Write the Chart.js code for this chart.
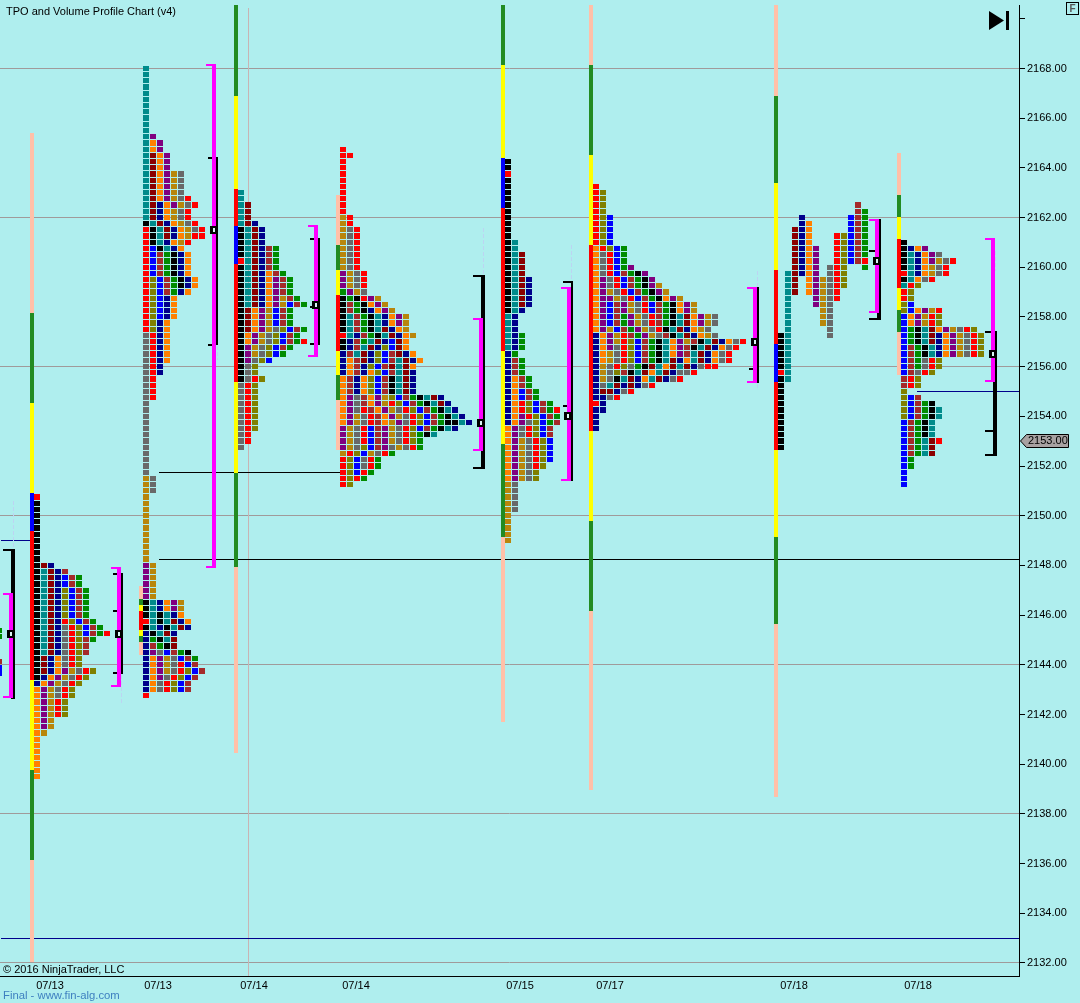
<!DOCTYPE html>
<html><head><meta charset="utf-8">
<style>html,body{margin:0;padding:0;background:#afeeee}canvas{display:block}</style>
<script src="https://cdn.jsdelivr.net/npm/chart.js@4"></script>
</head><body><canvas id="c" width="1080" height="1003"></canvas>
<script>
// ---------- DATA ----------
const priceTicks = [2132,2134,2136,2138,2140,2142,2144,2146,2148,2150,2152,2154,2156,2158,2160,2162,2164,2166,2168,2170];
const gridPrices = [2132,2138,2144,2150,2156,2162,2168];
const dateLabels = ["07/13","07/13","07/14","07/14","07/15","07/17","07/18","07/18"];
const datePositions = [50,158,254,356,520,610,794,918];
const lastPrice = 2153;

// TPO letters per price row (top row first, 0.25 point apart); '.' = empty cell
const p1Rows = "R K K K K K K K K K K KDN KTDNW KTDNBWG KTDNBWG KTDNLBWG KTDNLBWG KTDNLBWG KTDNLBWG KTDNLBWG KTDNRLBWG KTDNSRLBWG KTDNSRLBWGR KTDNSRLWG KTDNSRLW KTDNSRLW KDNOSRL KDNOSRL KDNOPYSRL KNOPYSRL NOPYSRL OPYSRL OPYSRL OPYRL OPYRL OPYRL OPY OPY OY O O O O O O O".split(" ");
const p2Rows = "T T T T T T T T T T T TP TOP TOP TDOP TDOP TDOP TDOPYS TDOPYS TDOPYS TDOPYS TDOPYSR TDNOPYSR TDNOYSR TDNOYSR KTDNOYSR RKTDNOYSR RKTDNOYRR RKTNOYR RBKTNO RBWGKNO RBWGKNO RBWGKNO RBWGKNO RLBWGKNO RLBWGKNO RLBWGNO RLBNO RLBNO RLBNO RLBNO RLNO RLNO SRNO SRNO SRNO SRNO SRNO SRN SRN SR SR SR SR S S S S S S S S S S S S YS YS YS Y Y Y Y Y Y Y Y Y Y Y PY PY PY PY PY PY KTNOPY KTNOPY KTKTNO RTKTDNO KTNKTDN NKTDN NGKTD NWGKD NPSBWGK NOPYSBWG NOPYSRBW NOPYSRLBW NOPSRLBW NOSRLBW NOSRLBW R".split(" ");
const p3Rows = "T T TD TD TD TDN KTDN KTDN KTDN KTDNWG KTDNWG RTDNWG KTDNWG KTDNOWG KTDNOPWG KTDNOPWG KTDNOPWG KTDNOPYWG KTDNOPYBWG KDOPYBWG KDOPYBWG KDOPYBWG KDOPYSLBWG KOPYSLBWG KOPYSLBWGR KPYSLBWG KPYSLBG KPSLB KSL KSL KSRL SRL SRL SRL SRL SRL SRL SRL SRL SR SR S".split(" ");
const p4Rows = "R RR R R R R R R R R R YR YR YSR YSR YSR YSR YSR YSR YSR PYSR PYSR PYSR GPYS KGKRPY KWGKOPY KWGKNOPY KTWGKTNOPY KTWGKTNOPY KTWGKTDNOY RTNWGKTDNOY KNWGTDNBDO KNWTDNLBDO NWTDNLBWDNO NOWDNLBWTDNO NOWNLBWDTDO NOWNOLBWTDN OWNOLBWKTDN OWNOLBWKTDN OWNOLBWKTDN OPSWOPYLBWGKTDN OPSWOPYRLBWGKTDN OPSRWOPYSRLBWGKTN OPYSRWOPYSRLBWGKTN OPYSRWOYPSRLBWGKKTN PYSRBWPYSRLBWGKTN PYSRBWPYSRLGKT PYSRBWPYSRLG PYSLBWPSYSRG YRLBYSRG RLBSRG RLBSRG RLBRG RLRG RL".split(" ");
const p5Rows = "K K R K K K K K K K K K K KT KT KTD KTD KTD KTD KTDN KTDN KTDN KTDN KTDN KTN TN TN TN TNG TNG TNG NG NWG NWG NWG NOWG NOWG NOBWG NOBWG NORLBWG NORLBWGR NOPRLBWG NOPSLBGW OPSRLBW OPSRLBW OPYSRLB OPYSRLB OPYSRLB OPYSRLB OPYSRL OPYSL OPYSL YS YS YS YS YS Y Y Y Y Y".split(" ");
const p6Rows = "R RL RL RL RL RLB RLB RLB RLB RLB ORLBG OSRBG OSRBG OSRBGP OSRBWGKP OPSRBWGKP OPSRBWGKPY OPYSRBWGKPY OPPYSRBWGKOPY OPBWPYSRBWGKOPY OPBWPYSRBWGKOPY OPBWGPYSRWGKTDOPYS OPBWGPYSRWGKTDOPYS OPYBWGPYSRKTDNOYS NOPYRWGPYSWKTDNOYS NOPYRLBWGKTOPYWKTDNOSR NOPSRLBWGKTOPWKTDNOSR NOYSRLBWGKTOPWTDNOSR NOYSRLBWGKTDNOTDNOSR NYSRLSGKDTODTDNSRR NYSLWKTDOTDNSSR NYSKTDNOTDNSR NSTDNDNSR NDDNSR NNSR RN NN N N N".split(" ");
const p7Rows = "...........W ...........WG ...N......BWG ...NO.....BWG ..DNO.....BWG ..DNO...RLBWG ..DNO...RLBWG ..DNOP..RLBWG ..DNOP..RLBWG ..DNOP..RLBWR ..DNOP.SRL..G .TDNOP.SRL .TD.OPYSRL .TD.OPYSRL .TD.OPYSR .T...PYSR .T...PYS .T....YS .T....YS .T....YS .T.....S KT.....S KT KT KT KT KT RT KT K K K K K K K K K K K".split(" ");
const p8Rows = "K KNOP KTNOPS KTNOPYSR KTNOYSR RTNOYSR KTOSR TRL RL RL LB LBOPYR BOPYRL BOPYRL BGKTDOPYSRL BGKTDNOPYSRL BGKTDNOPYSRL BWGKTNOPYSRL BWGKTNOPYSRL BWGSRL BWGSRL BWSRL WRL WRL L LBW LBWGK LBWGKT LBWGKT BWGKT BWGKT BWGKT BWGTDR BWGTD BWGTD BG BG B B B".split(" ");
const profileRows = [p1Rows,p2Rows,p3Rows,p4Rows,p5Rows,p6Rows,p7Rows,p8Rows];
const profileTopPrice = [2150.75,2168,2163,2164.75,2164.25,2163.25,2162.5,2161];
const profileColumn = [37,146,241,343,508,596,781,904];

// session range bars: segment codes and price edges
const sessionColumn = [32,141,236,338,503,591,776,899];
const sessionCodes = ["afybrmfa","afyrmfa","fyrbrmfa","afyrmfa","fybrmfa","afyrmfa","afyrbrmfa","afyrmfa"];
const sessionEdges = [
 [2165.40,2158.16,2154.54,2150.92,2149.39,2143.39,2139.77,2136.15,2132.05],
 [2147.17,2146.65,2146.41,2146.17,2145.40,2145.16,2144.92,2144.40],
 [2170.56,2166.89,2163.15,2161.66,2160.13,2155.38,2151.72,2147.94,2140.45],
 [2162.91,2160.90,2159.89,2158.88,2156.63,2155.66,2154.66,2152.65],
 [2170.56,2168.14,2164.40,2162.39,2156.63,2152.89,2149.15,2141.70],
 [2170.56,2168.14,2164.52,2160.90,2153.41,2149.79,2146.17,2138.96],
 [2170.56,2166.89,2163.39,2159.89,2156.91,2155.38,2152.65,2149.15,2145.64,2138.68],
 [2164.60,2162.91,2162.02,2161.14,2159.17,2158.28,2157.39,2155.66]
];

// value-area brackets: column, top, bottom
const magentaColumn = [11,119,214,316,481,569,755,877,993];
const magentaTop = [2146.89,2147.93,2168.18,2161.70,2157.96,2159.21,2159.21,2161.94,2161.18];
const magentaBottom = [2142.67,2143.12,2147.88,2156.37,2152.61,2151.40,2155.34,2158.16,2155.38];
// session-range brackets: column, line width, top, bottom, cap prices
const blackColumn = [13,122,217,319,483,572,758,879,995];
const blackWidth = [4,2,2,2,4,2,2,4,4];
const blackTop = [2148.67,2147.70,2164.44,2161.18,2159.69,2159.45,2159.21,2161.94,2157.44];
const blackBottom = [2142.64,2143.63,2156.87,2156.87,2151.88,2151.40,2155.34,2157.88,2152.40];
const blackCaps = [[2148.62],[2147.66,2146.17,2143.67],[2164.40,2156.87],[2161.14,2158.40,2156.91],[2159.65,2151.92],[2159.41,2154.42],[2155.91],[2160.65,2157.92],[2157.40,2153.41,2152.44]];
// point of control markers
const pocColumn = [11,119,214,316,481,568,755,877,993];
const pocPrice = [2145.25,2145.25,2161.5,2158.5,2153.75,2154,2157,2160.25,2156.5];

// horizontal level lines: price, from, to, colour code
const levelPrice = [2133,2151.75,2148.25,2149,2155];
const levelFrom = [1,159,159,1,917];
const levelTo = [1019,340,1019,30,1019];
const levelColor = ["#00008b","#000000","#000000","#00008b","#00008b"];
// session divider
const dividerColumn = [248.5];
// faint volume ticks: column, top, bottom
const faintColumn = [13,121,217,483,571,757,757,995];
const faintTop = [2150.60,2143.60,2156.85,2161.60,2160.90,2159.85,2155.30,2160.65];
const faintBottom = [2147.90,2142.45,2156.25,2159.70,2159.50,2159.20,2155.10,2159.85];
// fragments of the previous profile at the left edge
const edgeColumn = [1,1,1,1];
const edgeTop = [2145.50,2145.25,2144.25,2144.00];
const edgeBottom = [2145.30,2145.02,2144.04,2143.55];
const edgeCode = ["G","G","W","B"];

// ---------- STYLES ----------
const tpoColor = {R:"#ff0000",K:"#000000",T:"#008b8b",D:"#8b0000",N:"#00008b",B:"#0000ff",W:"#a52a2a",G:"#008c00",O:"#ff8000",P:"#800080",Y:"#b8860b",S:"#696969",L:"#808000"};
const sessionColor = {a:"#ffc0a8",f:"#228b22",y:"#ffff00",m:"#ffff00",r:"#ff0000",b:"#0000ff"};
const ROW = 0.25, PITCH = 7, TOP = 2170.5556, BOTTOM = 2131.4768, RIGHT = 1019;

function cellImage(color,h){
  const c = document.createElement("canvas"); c.width = 6; c.height = h;
  const g = c.getContext("2d"); g.fillStyle = color; g.fillRect(0,0,6,h); return c;
}
function pocImage(){
  const c = document.createElement("canvas"); c.width = 8; c.height = 8;
  const g = c.getContext("2d"); g.fillStyle = "#000"; g.fillRect(0,0,8,8);
  g.fillStyle = "#d8f4f4"; g.fillRect(3,2,2,4); return c;
}
function seg(x1,y1,x2,y2,color,width,extra){
  return Object.assign({type:"scatter",data:[{x:x1,y:y1},{x:x2,y:y2}],showLine:true,pointRadius:0,borderColor:color,borderWidth:width,
    borderCapStyle:"butt",tension:0,fill:false,snap:x1===x2?"v":"h",lineW:width},extra||{});
}

// bottom layer first; reversed below because Chart.js paints the first dataset last
const layers = [];
dividerColumn.forEach(x=>layers.push(seg(x,2170.43,x,BOTTOM,"#c8b4b4",1)));
levelPrice.forEach((p,i)=>layers.push(seg(levelFrom[i],p,levelTo[i],p,levelColor[i],1)));
faintColumn.forEach((x,i)=>layers.push(seg(x,faintTop[i],x,faintBottom[i],"#bcd4f2",1,{borderDash:[4,2]})));
edgeColumn.forEach((x,i)=>layers.push(seg(x,edgeTop[i],x,edgeBottom[i],tpoColor[edgeCode[i]],2)));
sessionColumn.forEach((x,s)=>{
  [...sessionCodes[s]].forEach((code,k)=>{
    layers.push(seg(x,sessionEdges[s][k],x,sessionEdges[s][k+1],sessionColor[code],4));
  });
});
// cells grouped by colour
const cells = {};
Object.keys(tpoColor).forEach(k=>cells[k]=[]);
profileRows.forEach((rows,p)=>{
  rows.forEach((row,r)=>{
    [...row].forEach((code,c)=>{
      if(code!==".") cells[code].push({x:profileColumn[p]+c*PITCH,y:profileTopPrice[p]-r*ROW});
    });
  });
});
Object.keys(cells).forEach(k=>{
  layers.push({type:"scatter",data:cells[k],pointStyle:cellImage(tpoColor[k],5),tallStyle:cellImage(tpoColor[k],6),pointRadius:3,pointHoverRadius:3,snap:"cell",showLine:false});
});
blackColumn.forEach((x,i)=>{
  const w = blackWidth[i];
  layers.push(seg(x,blackTop[i],x,blackBottom[i],"#000",w));
  blackCaps[i].forEach(p=>layers.push(seg(x-w/2-8,p,x-w/2,p,"#000",2)));
});
magentaColumn.forEach((x,i)=>{
  layers.push(seg(x,magentaTop[i],x,magentaBottom[i],"#ff00ff",4));
  layers.push(seg(x-8,magentaTop[i]-0.04,x-2,magentaTop[i]-0.04,"#ff00ff",2));
  layers.push(seg(x-8,magentaBottom[i]+0.04,x-2,magentaBottom[i]+0.04,"#ff00ff",2));
});
layers.push({type:"scatter",data:pocColumn.map((x,i)=>({x:x,y:pocPrice[i]})),pointStyle:pocImage(),pointRadius:4,pointHoverRadius:4,snap:"poc",showLine:false});

// pixel-align marks so cells keep one-pixel gaps and lines stay crisp
const snapPlugin = {
  id:"snap",
  afterDatasetsUpdate(chart){
    const scale = chart.scales.y;
    const rowPx = scale.getPixelForValue(2150-ROW)-scale.getPixelForValue(2150);
    chart.data.datasets.forEach((ds,i)=>{
      const pts = chart.getDatasetMeta(i).data;
      const odd = v=>Math.floor(v)+0.5;
      pts.forEach(pt=>{
        if(ds.snap==="cell"){
          const top = Math.round(pt.y-2.75), next = Math.round(pt.y+rowPx-2.75), h = next-top-1;
          pt.x = Math.round(pt.x);
          pt.y = top+h/2;
          if(h===6) pt.options = Object.assign({},pt.options,{pointStyle:ds.tallStyle});
        }
        else if(ds.snap==="poc"){pt.x=Math.round(pt.x);pt.y=Math.round(pt.y);}
        else if(ds.snap==="v"){pt.x=ds.lineW%2?odd(pt.x):Math.round(pt.x);pt.y=Math.round(pt.y);}
        else if(ds.snap==="h"){pt.y=ds.lineW%2?odd(pt.y):Math.round(pt.y);pt.x=Math.round(pt.x);}
      });
    });
  }
};
const decorPlugin = {
  id:"decor",
  beforeDraw(chart){
    const g = chart.ctx; g.save(); g.fillStyle="#afeeee"; g.fillRect(0,0,chart.width,chart.height); g.restore();
  },
  afterDraw(chart){
    const g = chart.ctx, y = chart.scales.y;
    g.save();
    g.textBaseline="middle"; g.textAlign="left";
    g.font="11px 'Liberation Sans', Arial, sans-serif"; g.fillStyle="#000";
    g.fillText("TPO and Volume Profile Chart (v4)",6,12);
    g.fillText("\u00a9 2016 NinjaTrader, LLC",3,970);
    g.font="11.3px 'Liberation Sans', Arial, sans-serif"; g.fillStyle="#3f80c0";
    g.fillText("Final - www.fin-alg.com",3,996);
    // play-to-end icon
    g.fillStyle="#000";
    g.beginPath(); g.moveTo(989,11); g.lineTo(1004,20.5); g.lineTo(989,30); g.closePath(); g.fill();
    g.fillRect(1006,11,3,19);
    // F box
    g.strokeStyle="#000"; g.lineWidth=1; g.strokeRect(1066.5,2.5,12,12);
    g.font="bold 10px 'Liberation Sans', Arial, sans-serif"; g.fillStyle="#555"; g.textAlign="center";
    g.fillText("F",1072.5,9);
    // last price marker
    const py = Math.round(y.getPixelForValue(lastPrice));
    g.beginPath(); g.moveTo(1020.5,py); g.lineTo(1026.5,py-6.5); g.lineTo(1068.5,py-6.5); g.lineTo(1068.5,py+6.5); g.lineTo(1026.5,py+6.5); g.closePath();
    g.fillStyle="#a8a2a2"; g.fill(); g.strokeStyle="#000"; g.stroke();
    g.font="11px 'Liberation Sans', Arial, sans-serif"; g.fillStyle="#000"; g.textAlign="left";
    g.fillText(lastPrice.toFixed(2),1028,py);
    g.restore();
  }
};

new Chart(document.getElementById("c"),{
  type:"scatter",
  data:{datasets:layers.slice().reverse()},
  plugins:[snapPlugin,decorPlugin],
  options:{
    responsive:false,animation:false,events:[],
    layout:{autoPadding:false,padding:{top:5,left:0,right:0,bottom:0}},
    plugins:{legend:{display:false},tooltip:{enabled:false},title:{display:false}},
    scales:{
      x:{type:"linear",min:0,max:RIGHT,
        afterBuildTicks(s){s.ticks=datePositions.map(v=>({value:v}));},
        afterFit(s){s.height=27;s.paddingLeft=0;s.paddingRight=0;},
        grid:{display:false,drawTicks:false},
        border:{display:true,color:"#000",width:1},
        ticks:{autoSkip:false,maxRotation:0,minRotation:0,padding:3,color:"#000",font:{family:"'Liberation Sans', Arial, sans-serif",size:11},
          callback(v,i){return dateLabels[i];}}
      },
      y:{type:"linear",position:"right",min:BOTTOM,max:TOP,
        afterBuildTicks(s){s.ticks=priceTicks.map(v=>({value:v}));},
        afterFit(s){s.width=1080-RIGHT;s.paddingTop=0;s.paddingBottom=0;},
        grid:{color(c){return c.tick&&gridPrices.includes(c.tick.value)?"#a09a9a":"rgba(0,0,0,0)";},tickColor:"#000",tickLength:6,drawTicks:true},
        border:{display:true,color:"#000",width:1},
        ticks:{autoSkip:false,padding:2,color:"#000",font:{family:"'Liberation Sans', Arial, sans-serif",size:11},
          callback(v){return v===2170?"":v.toFixed(2);}}
      }
    }
  }
});
</script></body></html>
